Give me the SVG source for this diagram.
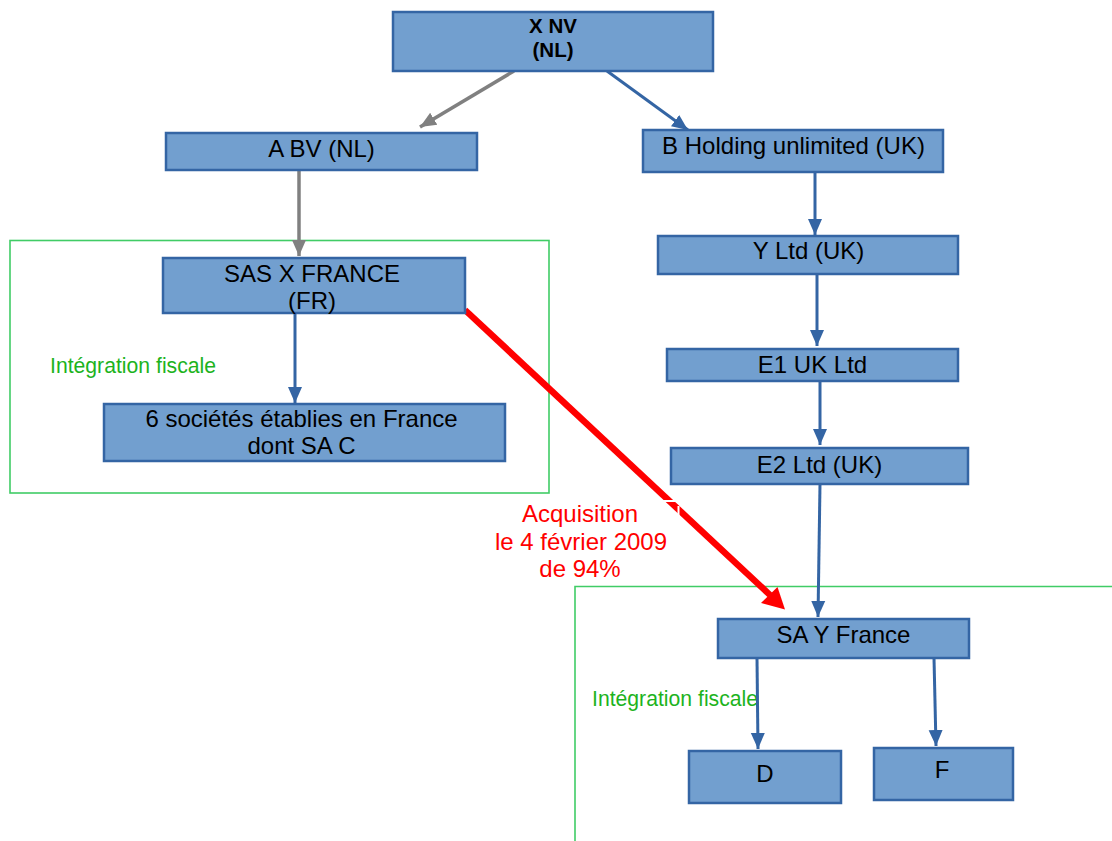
<svg xmlns="http://www.w3.org/2000/svg" width="1112" height="841" viewBox="0 0 1112 841">
<style>
.box{fill:#729fcf;stroke:#3465a4;stroke-width:2.5}
.t{font-family:"Liberation Sans",Arial,sans-serif;font-size:24px;fill:#000;text-anchor:middle}
.tb{font-family:"Liberation Sans",Arial,sans-serif;font-size:20.5px;font-weight:bold;fill:#000;text-anchor:middle}
.lbl{font-family:"Liberation Sans",Arial,sans-serif;font-size:21.2px;fill:#1db31d}
.red{font-family:"Liberation Sans",Arial,sans-serif;font-size:24px;fill:#ff0000;text-anchor:middle}
.grp{fill:none;stroke:#40cc66;stroke-width:1.6}
.cb{fill:none;stroke:#3465a4;stroke-width:3;marker-end:url(#ab)}
.cg{fill:none;stroke:#808080;stroke-width:3.5;marker-end:url(#ag)}
</style>
<defs>
<marker id="ab" markerUnits="userSpaceOnUse" markerWidth="16" markerHeight="16" viewBox="0 0 16 16" refX="16" refY="8" orient="auto"><path d="M0,1 L16,8 L0,15 z" fill="#3465a4"/></marker>
<marker id="ag" markerUnits="userSpaceOnUse" markerWidth="16" markerHeight="16" viewBox="0 0 16 16" refX="16" refY="8" orient="auto"><path d="M0,1 L16,8 L0,15 z" fill="#808080"/></marker>
</defs>
<rect width="1112" height="841" fill="#fff"/>

<g id="group-left">
<rect class="grp" x="10" y="240.5" width="539" height="252.5"/>
<text class="lbl" x="50" y="373">Intégration fiscale</text>
</g>
<g id="group-right">
<path class="grp" d="M575,841 V586.5 H1112"/>
<text class="lbl" x="592" y="706">Intégration fiscale</text>
</g>

<g id="connectors">
<line class="cg" x1="514" y1="71" x2="420" y2="127"/>
<line class="cb" x1="607" y1="71" x2="688" y2="130"/>
<line class="cg" x1="299" y1="170" x2="299" y2="256"/>
<line class="cb" x1="295" y1="313" x2="295" y2="403"/>
<line class="cb" x1="815" y1="172" x2="815" y2="235"/>
<line class="cb" x1="817" y1="274" x2="817" y2="346"/>
<line class="cb" x1="820" y1="381" x2="820" y2="445"/>
<line class="cb" x1="820" y1="484" x2="818" y2="617"/>
<line class="cb" x1="757" y1="658" x2="758" y2="749"/>
<line class="cb" x1="934" y1="658" x2="936" y2="746"/>
<g id="acquisition">
<line x1="465" y1="310" x2="770" y2="595" stroke="#ff0000" stroke-width="6.5"/>
<polygon points="785,609.5 761,603 777.5,587" fill="#ff0000"/>
<line x1="662" y1="501" x2="677" y2="501" stroke="#fff" stroke-width="2"/>
<line x1="678.5" y1="506" x2="678.5" y2="517" stroke="#fff" stroke-width="2"/>
<text class="red" x="580" y="522">Acquisition</text>
<text class="red" x="581" y="550">le 4 février 2009</text>
<text class="red" x="580" y="577">de 94%</text>
</g>
</g>

<g id="n-xnv"><rect class="box" x="393" y="12" width="320" height="59"/><text class="tb" x="553" y="33">X NV</text><text class="tb" x="553" y="57">(NL)</text></g>
<g id="n-abv"><rect class="box" x="166" y="133" width="311" height="37"/><text class="t" x="321.5" y="157">A BV (NL)</text></g>
<g id="n-sasx"><rect class="box" x="163" y="258" width="302" height="55"/><text class="t" x="312" y="282">SAS X FRANCE</text><text class="t" x="312" y="309">(FR)</text></g>
<g id="n-six"><rect class="box" x="104" y="404" width="401" height="57"/><text class="t" x="301.5" y="427">6 sociétés établies en France</text><text class="t" x="301.5" y="454">dont SA C</text></g>
<g id="n-bhold"><rect class="box" x="643" y="130" width="300" height="42"/><text class="t" x="793.5" y="154">B Holding unlimited (UK)</text></g>
<g id="n-yltd"><rect class="box" x="658" y="236" width="300" height="38"/><text class="t" x="808.5" y="259">Y Ltd (UK)</text></g>
<g id="n-e1"><rect class="box" x="667" y="349" width="291" height="32"/><text class="t" x="812.5" y="373">E1 UK Ltd</text></g>
<g id="n-e2"><rect class="box" x="671" y="448" width="297" height="36"/><text class="t" x="819.5" y="472.5">E2 Ltd (UK)</text></g>
<g id="n-say"><rect class="box" x="718" y="619" width="251" height="39"/><text class="t" x="843.5" y="643">SA Y France</text></g>
<g id="n-d"><rect class="box" x="689" y="751" width="152" height="52"/><text class="t" x="765" y="782">D</text></g>
<g id="n-f"><rect class="box" x="874" y="748" width="139" height="52"/><text class="t" x="942" y="778">F</text></g>
</svg>
